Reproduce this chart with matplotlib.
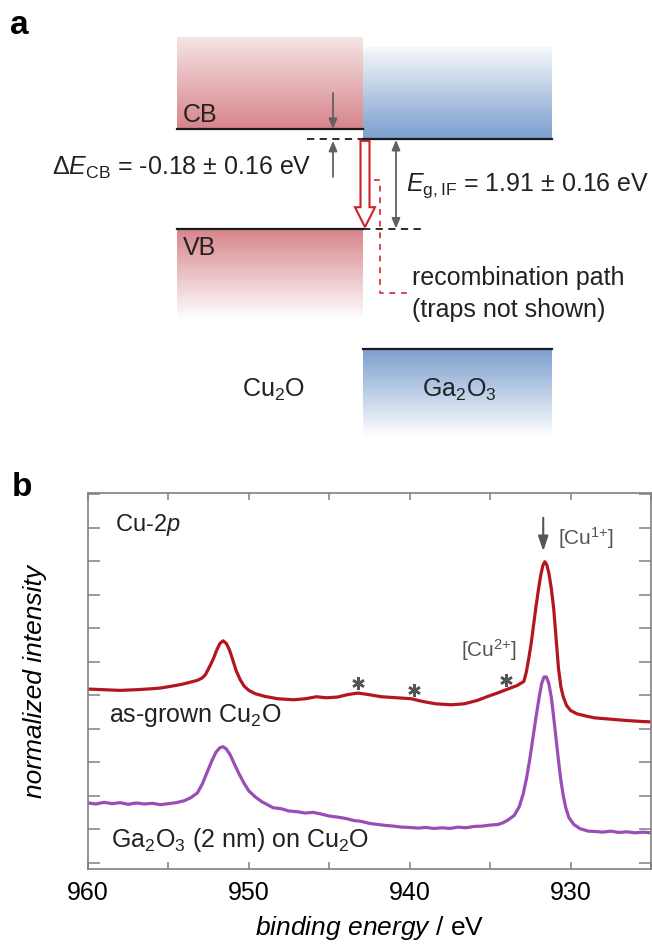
import numpy as np
import matplotlib
matplotlib.use("Agg")
import matplotlib.pyplot as plt
from matplotlib.colors import LinearSegmentedColormap
from matplotlib.patches import FancyArrow

plt.rcParams['font.family'] = ['Liberation Sans', 'DejaVu Sans']
plt.rcParams['mathtext.fontset'] = 'custom'
plt.rcParams['mathtext.rm'] = 'Liberation Sans'
plt.rcParams['mathtext.it'] = 'Liberation Sans:italic'
plt.rcParams['mathtext.bf'] = 'Liberation Sans:bold'

# ---- panel a: band edges (eV, relative to Cu2O CB) ----
materials = ['Cu$_2$O', 'Ga$_2$O$_3$']
block_x = [(177, 363), (363, 552)]
cb_edge = [0.0, -0.21]
vb_edge = [-2.10, -4.64]
cb_fade = [1.94, 1.73]
vb_fade = [-4.03, -6.50]
band_colors = ['#d6848a', '#7a9ecd']
cb_top_colors = ['#f6e4e4', '#f6f8fb']

# ---- panel b: Cu-2p XPS spectra ----
red_E = [960, 959, 958, 957, 956, 955.5, 955, 954.5, 954, 953.6,
         953.2, 952.9, 952.7, 952.45, 952.2, 952.0, 951.8, 951.6, 951.4, 951.2,
         951.0, 950.8, 950.55, 950.3, 950.0, 949.6, 949.0, 948.2, 947.2, 946.5,
         945.8, 945.2, 944.5, 943.8, 943.2, 942.5, 941.75, 940.8, 939.9, 939.2,
         938.4, 937.4, 936.6, 935.8, 935.2, 934.5, 933.9, 933.3, 932.9, 932.75,
         932.6, 932.45, 932.3, 932.15, 932.0, 931.85, 931.72, 931.6, 931.48, 931.35,
         931.2, 931.05, 930.95, 930.85, 930.75, 930.6, 930.45, 930.25, 930.0, 929.6,
         929.0, 928.5, 927.5, 926.5, 925.5, 925.0]
red_I = [5.19, 5.17, 5.15, 5.17, 5.2, 5.22, 5.26, 5.3, 5.35, 5.4,
         5.45, 5.52, 5.62, 5.85, 6.1, 6.35, 6.55, 6.63, 6.55, 6.35,
         6.06, 5.75, 5.48, 5.28, 5.15, 5.05, 4.97, 4.9, 4.87, 4.9,
         4.96, 4.93, 4.95, 5.03, 5.07, 5.02, 4.96, 4.93, 4.9, 4.82,
         4.75, 4.72, 4.75, 4.85, 4.96, 5.08, 5.19, 5.3, 5.42, 5.7,
         6.1, 6.55, 7.1, 7.65, 8.15, 8.6, 8.88, 8.99, 8.9, 8.65,
         8.2, 7.6, 7.0, 6.4, 5.8, 5.25, 4.95, 4.7, 4.55, 4.45,
         4.38, 4.33, 4.29, 4.25, 4.22, 4.21]

pur_E = [960, 959.5, 959, 958.5, 958, 957.5, 957, 956.5, 956, 955.5,
         955, 954.5, 954, 953.6, 953.2, 952.9, 952.6, 952.3, 952.05, 951.8,
         951.6, 951.4, 951.15, 950.9, 950.6, 950.3, 950.0, 949.6, 949.2, 948.5,
         948.0, 947.5, 947.0, 946.5, 946.0, 945.5, 945.0, 944.5, 944.0, 943.5,
         943.0, 942.5, 942.0, 941.5, 941.0, 940.5, 940.0, 939.5, 939.0, 938.5,
         938.0, 937.5, 937.0, 936.5, 936.0, 935.5, 935.0, 934.5, 934.2, 933.9,
         933.5, 933.2, 932.95, 932.75, 932.55, 932.35, 932.15, 931.95, 931.8, 931.65,
         931.5, 931.35, 931.2, 931.05, 930.9, 930.75, 930.6, 930.45, 930.3, 930.1,
         929.8, 929.4, 928.9, 928.5, 928.0, 927.5, 927.0, 926.5, 926.0, 925.5,
         925.0]
pur_I = [1.79, 1.76, 1.81, 1.77, 1.8, 1.75, 1.79, 1.76, 1.78, 1.74,
         1.77, 1.8, 1.86, 1.95, 2.09, 2.35, 2.7, 3.05, 3.3, 3.44,
         3.47, 3.4, 3.22, 2.95, 2.65, 2.38, 2.15, 1.97, 1.83, 1.65,
         1.62, 1.55, 1.53, 1.49, 1.51, 1.46, 1.4, 1.37, 1.33, 1.27,
         1.24, 1.18, 1.15, 1.12, 1.1, 1.07, 1.06, 1.04, 1.06, 1.03,
         1.05, 1.03, 1.07, 1.05, 1.09, 1.1, 1.13, 1.15, 1.2, 1.28,
         1.42, 1.67, 2.05, 2.5, 3.05, 3.7, 4.35, 4.95, 5.35, 5.55,
         5.55, 5.35, 4.95, 4.35, 3.7, 3.05, 2.45, 2.0, 1.65, 1.35,
         1.15, 1.02, 0.95, 0.94, 0.92, 0.95, 0.91, 0.93, 0.9, 0.92,
         0.9]

star_E = [943.2, 939.75, 934.0]
star_I = [5.37, 5.16, 5.45]

fig = plt.figure(figsize=(6.52, 9.44), dpi=100)

# ================= panel a =================
ax = fig.add_axes([0, 1 - 460 / 944, 1, 460 / 944])
ax.axis('off')


def grad_block(x0, x1, e_strong, e_fade, color, light='white'):
    cmap = LinearSegmentedColormap.from_list('g', [light, color])
    # rows go from low energy (bottom) to high energy (top)
    if e_strong < e_fade:
        g = np.linspace(1, 0, 256)
    else:
        g = np.linspace(0, 1, 256)
    lo, hi = min(e_strong, e_fade), max(e_strong, e_fade)
    ax.imshow(g.reshape(-1, 1), extent=(x0, x1, lo, hi), origin='lower',
              cmap=cmap, aspect='auto', vmin=0, vmax=1, interpolation='bilinear')


for i in range(2):
    x0, x1 = block_x[i]
    grad_block(x0, x1, cb_edge[i], cb_fade[i], band_colors[i], cb_top_colors[i])
    grad_block(x0, x1, vb_edge[i], vb_fade[i], band_colors[i])
    ax.plot([x0, x1], [cb_edge[i], cb_edge[i]], color='#1a1a1a', lw=1.6)
    ax.plot([x0, x1], [vb_edge[i], vb_edge[i]], color='#1a1a1a', lw=1.6)

ax.set_xlim(0, 652)
ax.set_ylim(-(460 - 129) / 47.4, 129 / 47.4)

# dashed extensions
ax.plot([307, 363], [cb_edge[1], cb_edge[1]], color='#1a1a1a', lw=1.3, dashes=(4, 3))
ax.plot([363, 425], [vb_edge[0], vb_edge[0]], color='#1a1a1a', lw=1.3, dashes=(4, 3))

gray = '#606060'
ax.annotate('', xy=(333, cb_edge[0]), xytext=(333, 0.76),
            arrowprops=dict(arrowstyle='-|>,head_length=0.6,head_width=0.25',
                            color=gray, lw=1.3, shrinkA=0, shrinkB=0))
ax.annotate('', xy=(333, cb_edge[1] - 0.04), xytext=(333, -1.01),
            arrowprops=dict(arrowstyle='-|>,head_length=0.6,head_width=0.25',
                            color=gray, lw=1.3, shrinkA=0, shrinkB=0))
ax.annotate('', xy=(396, vb_edge[0]), xytext=(396, cb_edge[1] - 0.02),
            arrowprops=dict(arrowstyle='<|-|>,head_length=0.6,head_width=0.25',
                            color=gray, lw=1.3, shrinkA=0, shrinkB=0))

# hollow red arrow
ax.add_patch(FancyArrow(365, cb_edge[1] - 0.04, 0, vb_edge[0] + 0.03 - cb_edge[1] + 0.04,
                        width=9, head_width=20, head_length=0.42,
                        length_includes_head=True, facecolor='white',
                        edgecolor='#cc2229', lw=1.5, zorder=5))

# recombination path
ax.plot([374, 380, 380, 410], [-1.08, -1.08, -3.46, -3.46],
        color='#d9474b', lw=1.4, dashes=(3, 3))

fs = 18
ax.text(183, 0.30, 'CB', fontsize=fs, va='center', color='#222222')
ax.text(183, -2.51, 'VB', fontsize=fs, va='center', color='#222222')
ax.text(312, -0.82, 'Δ$\\mathit{E}_{\\mathrm{CB}}$ = -0.18 ± 0.16 eV', fontsize=fs,
        ha='right', va='center', color='#222222')
ax.text(406, -1.20, '$\\mathit{E}_{\\mathrm{g,IF}}$ = 1.91 ± 0.16 eV', fontsize=fs,
        ha='left', va='center', color='#222222')
ax.text(412, -3.14, 'recombination path', fontsize=fs, va='center', color='#222222')
ax.text(412, -3.82, '(traps not shown)', fontsize=fs, va='center', color='#222222')
for i in range(2):
    x0, x1 = block_x[i]
    ax.text((x0 + x1) / 2 + (3 if i == 0 else 2), -5.51, materials[i], fontsize=fs,
            ha='center', va='center', color='#222222')

fig.text(10 / 652, 1 - 34 / 944, 'a', fontsize=24, fontweight='bold', va='baseline')
fig.text(12 / 652, 1 - 496 / 944, 'b', fontsize=24, fontweight='bold', va='baseline')

# ================= panel b =================
bx = fig.add_axes([88 / 652, 1 - 869 / 944, (651 - 88) / 652, (869 - 493) / 944])
bx.plot(red_E, red_I, color='#b3161e', lw=2.3)
bx.plot(pur_E, pur_I, color='#9a4db5', lw=2.3)
bx.plot(star_E, star_I, linestyle='none', marker=(6, 2, 0), markersize=9,
        markeredgewidth=1.8, color='#555555')

bx.set_xlim(960, 925)
bx.set_ylim(-0.18, 11.04)
bx.set_xticks([960, 950, 940, 930])
bx.set_xticks([955, 945, 935, 925], minor=True)
bx.set_yticks(np.arange(0, 12))
bx.set_yticklabels([])
for sp in bx.spines.values():
    sp.set_color('#808080')
    sp.set_linewidth(1.2)
bx.tick_params(axis='x', which='both', direction='in', top=True, length=5,
               width=1.1, color='#808080', labelsize=18, pad=9)
bx.tick_params(axis='y', which='both', direction='in', right=True, length=8.5,
               width=1.1, color='#808080')
bx.set_xlabel('$\\mathit{binding\\ energy}$ / eV', fontsize=19, labelpad=6)
bx.set_ylabel('normalized intensity', fontsize=19, style='italic', labelpad=26)

bx.text(958.3, 10.1, 'Cu-2$\\mathit{p}$', fontsize=17, va='center', color='#222222')
bx.text(958.7, 4.21, 'as-grown Cu$_2$O', fontsize=18, va='baseline', color='#222222')
bx.text(958.6, 0.48, 'Ga$_2$O$_3$ (2 nm) on Cu$_2$O', fontsize=18, va='baseline',
        color='#222222')
bx.text(935.06, 6.36, '[Cu$^{2{+}}$]', fontsize=15, ha='center', va='center', color='#555555')
bx.text(930.8, 9.7, '[Cu$^{1{+}}$]', fontsize=15, ha='left', va='center', color='#555555')
bx.annotate('', xy=(931.7, 9.3), xytext=(931.7, 10.3),
            arrowprops=dict(arrowstyle='-|>,head_length=0.9,head_width=0.3',
                            color='#555555', lw=1.5, shrinkA=0, shrinkB=0))

fig.savefig('out.png', dpi=100)
